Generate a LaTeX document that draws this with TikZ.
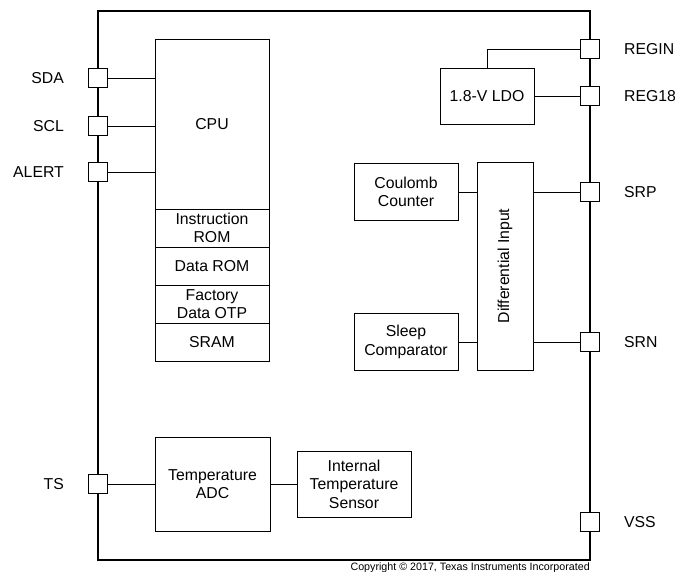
\documentclass[tikz,border=0pt]{standalone}
\usepackage{fontspec}
\setmainfont{Liberation Sans}
\usetikzlibrary{positioning}

\begin{document}
\begin{tikzpicture}[x=1pt, y=-1pt,
    blk/.style={draw, line width=0.9pt, align=center, inner sep=0pt, outer sep=0pt,
      font=\fontsize{15.8}{18.5}\selectfont},
    pinbox/.style={draw, fill=white, line width=0.9pt, minimum size=19pt, inner sep=0pt},
    lbl/.style={inner sep=0pt, font=\fontsize{15.8}{18.5}\selectfont},
    wire/.style={line width=0.9pt}]

    \useasboundingbox (0,0) rectangle (678,571);

    % package outline
    \draw[line width=1.6pt] (98,11) rectangle (590,560);

    % pins, left side
    \node[pinbox] (sda) at (98,78){};
    \node[pinbox] (scl) at (98,126){};
    \node[pinbox] (alert) at (98,172){};
    \node[pinbox] (ts) at (98,484){};
    \node[lbl, left=24pt of sda] {SDA};
    \node[lbl, left=24pt of scl] {SCL};
    \node[lbl, left=24pt of alert] {ALERT};
    \node[lbl, left=24pt of ts] {TS};

    % pins, right side
    \node[pinbox] (regin) at (590,49){};
    \node[pinbox] (reg18) at (590,96){};
    \node[pinbox] (srp) at (590,192){};
    \node[pinbox] (srn) at (590,342){};
    \node[pinbox] (vss) at (590,522){};
    \node[lbl, right=24pt of regin] {REGIN};
    \node[lbl, right=24pt of reg18] {REG18};
    \node[lbl, right=24pt of srp] {SRP};
    \node[lbl, right=24pt of srn] {SRN};
    \node[lbl, right=24pt of vss] {VSS};

    % cpu and memories
    \node[blk, minimum width=114pt, minimum height=170pt] (cpu) at (212,124){CPU};
    \node[blk, minimum width=114pt, minimum height=38pt, below=0pt of cpu] (irom){Instruction\\ROM};
    \node[blk, minimum width=114pt, minimum height=38pt, below=0pt of irom] (drom){Data ROM};
    \node[blk, minimum width=114pt, minimum height=38pt, below=0pt of drom] (otp){Factory\\Data OTP};
    \node[blk, minimum width=114pt, minimum height=38pt, below=0pt of otp] (sram){SRAM};

    \draw[wire] (sda.east) -- (sda.east -| cpu.west);
    \draw[wire] (scl.east) -- (scl.east -| cpu.west);
    \draw[wire] (alert.east) -- (alert.east -| cpu.west);

    % regulator
    \node[blk, minimum width=94pt, minimum height=56pt] (ldo) at (487,96){1.8-V LDO};
    \draw[wire] (ldo.north) |- (regin.west);
    \draw[wire] (ldo.east) -- (reg18.west);

    % current sense
    \node[blk, minimum width=56pt, minimum height=208pt] (diff) at (505,266){\rotatebox{90}{Differential Input}};
    \node[blk, minimum width=104pt, minimum height=57pt] (coul) at (406,192){Coulomb\\Counter};
    \node[blk, minimum width=104pt, minimum height=57pt] (sleep) at (406,342){Sleep\\Comparator};
    \draw[wire] (coul.east) -- (coul.east -| diff.west);
    \draw[wire] (sleep.east) -- (sleep.east -| diff.west);
    \draw[wire] (diff.east |- srp) -- (srp.west);
    \draw[wire] (diff.east |- srn) -- (srn.west);

    % temperature
    \node[blk, minimum width=115pt, minimum height=94pt] (adc) at (212.5,484){Temperature\\ADC};
    \node[blk, minimum width=114pt, minimum height=66pt] (its) at (354,484){Internal\\Temperature\\Sensor};
    \draw[wire] (ts.east) -- (adc.west);
    \draw[wire] (adc.east) -- (its.west);

    \node[inner sep=0pt, anchor=base east, font=\fontsize{10.7}{12}\selectfont] (copy) at (590,570){Copyright \textcopyright{} 2017, Texas Instruments Incorporated};

  \end{tikzpicture}
\end{document}
